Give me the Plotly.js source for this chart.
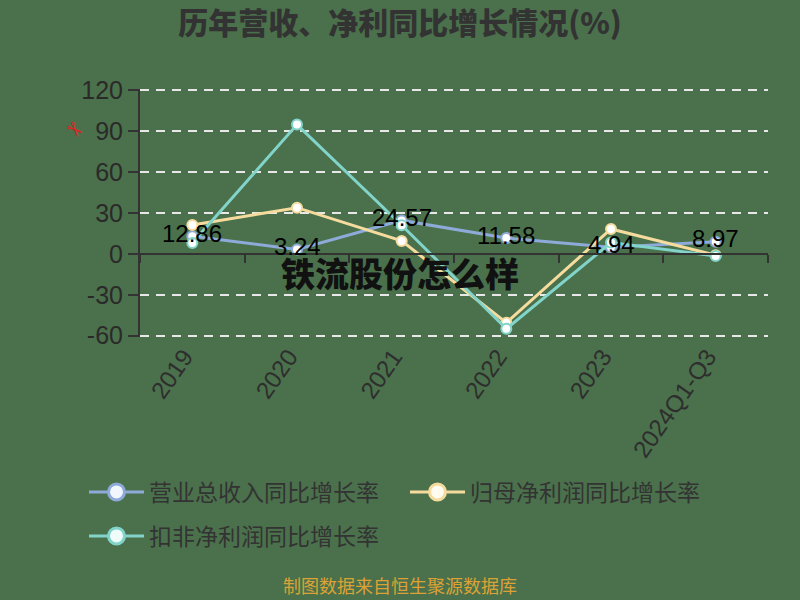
<!DOCTYPE html>
<html>
<head>
<meta charset="utf-8">
<script src="https://cdn.plot.ly/plotly-3.0.1.min.js"></script>
<style>html,body{margin:0;padding:0;background:#4a714b;}#chart{width:800px;height:600px;}</style>
</head>
<body>
<div id="chart"></div>
<script>
const categories = ['2019', '2020', '2021', '2022', '2023', '2024Q1-Q3'];
const revenueGrowth = [12.86, 3.24, 24.57, 11.58, 4.94, 8.97];
const netProfitGrowth = [21.2, 33.9, 9.5, -50.5, 18.3, -1.0];
const deductedGrowth = [8.0, 94.9, 21.0, -55.0, 8.3, -1.5];
const seriesNames = ['营业总收入同比增长率', '归母净利润同比增长率', '扣非净利润同比增长率'];
const yTicks = [-60, -30, 0, 30, 60, 90, 120];

const seriesValues = [revenueGrowth, netProfitGrowth, deductedGrowth];
const colors = ['#8eaad8', '#f5dc9e', '#82d4cb'];
const fillColors = ['#f2f6ff', '#fffbee', '#effcfa'];
const cjk = '"Noto Sans CJK SC", "Liberation Sans", sans-serif';
const num = '"Liberation Sans", "Noto Sans CJK SC", sans-serif';
const bg = '#4a714b';

const yMin = yTicks[0], yMax = yTicks[yTicks.length - 1];
const pad = 1.0;
const yRange = [yMin - pad, yMax + pad];
const zeroPos = (0 - yRange[0]) / (yRange[1] - yRange[0]);
const catIdx = categories.map((c, i) => i);

const traces = [];
// helper axis at y = 0 (axis line + boundary ticks)
traces.push({
  type: 'scatter', mode: 'none', x: categories, y: revenueGrowth,
  xaxis: 'x2', yaxis: 'y', showlegend: false, hoverinfo: 'skip'
});
seriesValues.forEach((vals, i) => {
  traces.push({
    type: 'scatter', mode: 'lines+markers', name: seriesNames[i],
    x: categories, y: vals,
    line: {color: colors[i], width: 3},
    marker: {size: 10, color: '#ffffff', line: {color: colors[i], width: 2}},
    showlegend: false, hoverinfo: 'skip'
  });
});
// legend entries
seriesNames.forEach((nm, i) => {
  traces.push({
    type: 'scatter', mode: 'lines+markers', name: nm,
    x: [null], y: [null],
    line: {color: colors[i], width: 3},
    marker: {size: 16, color: fillColors[i], line: {color: colors[i], width: 3}},
    legend: i < 2 ? 'legend' : 'legend2',
    hoverinfo: 'skip'
  });
});

const annotations = revenueGrowth.map((v, i) => ({
  x: catIdx[i], y: v, xref: 'x', yref: 'y',
  text: v.toFixed(2), showarrow: false, yshift: 3,
  font: {family: num, size: 24, color: '#000000'}
}));
annotations.push({
  xref: 'paper', yref: 'paper', x: 0.414, y: 0.26, xanchor: 'center', yanchor: 'middle',
  text: '铁流股份怎么样', showarrow: false,
  font: {family: cjk, size: 34, color: '#111111', weight: 900}
});
annotations.push({
  xref: 'paper', yref: 'paper', x: 0.414, y: (337 - 600) / 248, xanchor: 'center', yanchor: 'bottom',
  text: '制图数据来自恒生聚源数据库', showarrow: false,
  font: {family: cjk, size: 18, color: '#dca236'}
});
annotations.push({
  xref: 'paper', yref: 'paper', x: -0.104, y: 0.833, xanchor: 'center', yanchor: 'middle',
  text: '✂', showarrow: false, textangle: 45,
  font: {family: '"DejaVu Sans"', size: 20, color: '#e02020'}
});

const layout = {
  width: 800, height: 600,
  paper_bgcolor: bg, plot_bgcolor: bg,
  margin: {l: 140, r: 32, t: 89, b: 263},
  title: {
    text: '历年营收、净利同比增长情况(%)', x: 0.5, xanchor: 'center', xref: 'container',
    y: 1 - 23 / 600, yanchor: 'middle', yref: 'container',
    font: {family: cjk, size: 30, color: '#333333', weight: 900}
  },
  xaxis: {
    type: 'category', range: [-0.5, categories.length - 0.5],
    tickangle: -55, ticklabelshift: -8,
    tickfont: {family: num, size: 24, color: '#2e2e2e'},
    showline: false, ticks: '', showgrid: false, zeroline: false
  },
  xaxis2: {
    type: 'category', overlaying: 'x', anchor: 'free', position: zeroPos,
    range: [-0.5, categories.length - 0.5],
    tickson: 'boundaries', ticks: 'outside', ticklen: 8, tickwidth: 2, tickcolor: '#333333',
    showline: true, linecolor: '#333333', linewidth: 2,
    showticklabels: false, showgrid: false, zeroline: false
  },
  yaxis: {
    range: yRange, tickvals: yTicks, ticktext: yTicks.map(String),
    ticks: 'outside', ticklen: 10, tickwidth: 2, tickcolor: '#333333',
    showline: true, linecolor: '#333333', linewidth: 2,
    showgrid: true, gridcolor: '#e8e8e8', gridwidth: 2, griddash: '9px,7px',
    zeroline: false,
    tickfont: {family: num, size: 25, color: '#2a2a2a'}
  },
  legend: {
    orientation: 'h', x: (84 - 140) / 628, xanchor: 'left', y: (337 - 492) / 248, yanchor: 'middle',
    font: {family: cjk, size: 23, color: '#333333'}, itemwidth: 55,
    entrywidth: 251, entrywidthmode: 'pixels', bgcolor: 'rgba(0,0,0,0)', itemclick: false
  },
  legend2: {
    orientation: 'h', x: (84 - 140) / 628, xanchor: 'left', y: (337 - 536) / 248, yanchor: 'middle',
    font: {family: cjk, size: 23, color: '#333333'}, itemwidth: 55,
    bgcolor: 'rgba(0,0,0,0)', itemclick: false
  },
  annotations: annotations,
  showlegend: true
};

Plotly.newPlot('chart', traces, layout, {displayModeBar: false, staticPlot: true});
</script>
</body>
</html>
